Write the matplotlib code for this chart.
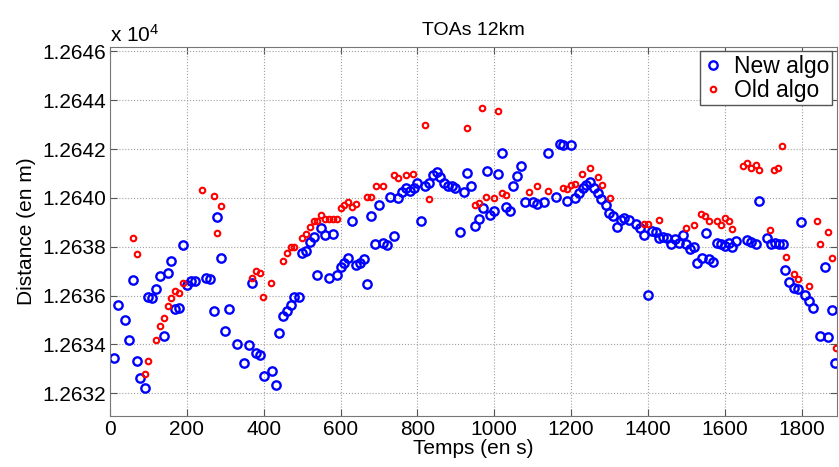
import matplotlib
matplotlib.use('Agg')
import matplotlib.pyplot as plt
from matplotlib.ticker import FuncFormatter, MultipleLocator

plt.rcParams['font.family'] = ['Liberation Sans', 'DejaVu Sans']
plt.rcParams['mathtext.default'] = 'regular'

# New algo (blue)
t_new = [10, 20, 40, 49, 59, 70, 79, 90, 99, 110, 119, 130, 140, 150, 160, 170, 180, 190,
         200, 210, 220, 250, 261, 270, 279, 290, 299, 310, 330, 350, 361, 370, 380, 391,
         400, 421, 431, 440, 450, 460, 470, 480, 491, 500, 511, 520, 531, 540, 550, 560,
         570, 580, 590, 600, 610, 620, 630, 640, 650, 660, 669, 680, 690, 700, 711, 720,
         730, 740, 750, 760, 770, 781, 790, 800, 810, 820, 830, 840, 850, 860, 870, 880,
         890, 899, 910, 921, 930, 940, 950, 960, 970, 980, 990, 1000, 1010, 1020, 1030,
         1040, 1050, 1060, 1070, 1080, 1100, 1110, 1130, 1140, 1160, 1170, 1180, 1190,
         1200, 1210, 1220, 1230, 1240, 1250, 1260, 1270, 1279, 1290, 1299, 1310, 1320,
         1330, 1339, 1350, 1370, 1380, 1389, 1400, 1410, 1420, 1429, 1440, 1449, 1460,
         1470, 1480, 1490, 1500, 1510, 1520, 1528, 1540, 1550, 1560, 1570, 1579, 1590,
         1600, 1610, 1620, 1630, 1657, 1667, 1680, 1689, 1709, 1719, 1730, 1740, 1752,
         1758, 1768, 1779, 1790, 1799, 1809, 1820, 1829, 1849, 1860, 1869, 1880, 1888]
d_new = [12633.44, 12635.62, 12635.02, 12634.20, 12636.64, 12633.32, 12632.64, 12632.21,
         12635.94, 12635.92, 12636.28, 12636.79, 12634.35, 12636.92, 12637.41, 12635.46,
         12635.49, 12638.07, 12636.42, 12636.61, 12636.61, 12636.71, 12636.70, 12635.35,
         12639.20, 12637.56, 12634.57, 12635.46, 12634.00, 12633.25, 12633.96, 12636.50,
         12633.67, 12633.56, 12632.70, 12632.92, 12632.36, 12634.47, 12635.16, 12635.36,
         12635.61, 12635.93, 12635.93, 12637.74, 12637.82, 12638.18, 12638.38, 12636.84,
         12638.76, 12638.50, 12636.74, 12638.53, 12636.85, 12637.16, 12637.34, 12637.52,
         12639.07, 12637.26, 12637.33, 12637.49, 12636.46, 12639.28, 12638.10, 12639.73,
         12638.16, 12638.09, 12640.03, 12638.45, 12640.00, 12640.23, 12640.42, 12640.28,
         12640.41, 12640.62, 12639.06, 12640.50, 12640.62, 12640.93, 12641.07, 12640.84,
         12640.62, 12640.48, 12640.50, 12640.39, 12638.60, 12640.24, 12641.04, 12640.50,
         12638.84, 12639.12, 12639.59, 12641.11, 12639.29, 12639.46, 12640.99, 12641.85,
         12639.64, 12639.46, 12640.50, 12640.90, 12641.29, 12639.84, 12639.82, 12639.74,
         12639.82, 12641.83, 12640.02, 12642.22, 12642.16, 12639.86, 12642.17, 12639.98,
         12640.19, 12640.40, 12640.51, 12640.64, 12640.42, 12640.21, 12639.94, 12639.69,
         12639.39, 12639.27, 12638.82, 12639.09, 12639.16, 12639.09, 12638.94, 12638.77,
         12638.48, 12636.04, 12638.65, 12638.60, 12638.35, 12638.41, 12638.35, 12638.12,
         12638.32, 12638.17, 12638.47, 12638.12, 12637.90, 12637.97, 12637.33, 12637.52,
         12638.57, 12637.51, 12637.38, 12638.16, 12638.10, 12638.03, 12638.16, 12637.99,
         12638.23, 12638.26, 12638.20, 12638.10, 12639.87, 12638.34, 12638.10, 12638.16,
         12638.10, 12638.10, 12637.05, 12636.54, 12636.30, 12636.27, 12639.02, 12636.03,
         12635.78, 12635.48, 12634.36, 12637.18, 12634.31, 12635.43, 12633.22]

# Old algo (red)
t_old = [59, 69, 90, 99, 119, 130, 140, 150, 160, 170, 180, 190, 240, 270, 279, 290, 370,
         380, 391, 399, 420, 450, 460, 470, 480, 500, 510, 520, 530, 540, 550, 560, 570,
         580, 590, 600, 610, 620, 630, 640, 669, 680, 691, 710, 740, 750, 770, 789, 820,
         829, 929, 949, 960, 969, 979, 1000, 1010, 1020, 1030, 1090, 1110, 1140, 1179,
         1190, 1200, 1210, 1229, 1249, 1269, 1280, 1300, 1389, 1400, 1429, 1499, 1520,
         1539, 1549, 1560, 1579, 1590, 1600, 1610, 1619, 1647, 1658, 1668, 1680, 1689,
         1718, 1728, 1739, 1750, 1759, 1779, 1790, 1819, 1840, 1849, 1869, 1879, 1889]
d_old = [12638.35, 12637.69, 12632.79, 12633.33, 12634.19, 12634.76, 12635.10, 12635.59,
         12635.92, 12636.18, 12636.12, 12636.50, 12640.31, 12640.08, 12638.57, 12639.67,
         12636.72, 12637.02, 12636.92, 12635.96, 12636.52, 12637.42, 12637.75, 12637.97,
         12637.99, 12638.35, 12638.53, 12638.80, 12639.04, 12639.05, 12639.32, 12639.12,
         12639.12, 12639.12, 12639.15, 12639.57, 12639.71, 12639.84, 12639.64, 12639.74,
         12640.03, 12640.03, 12640.49, 12640.49, 12640.93, 12640.81, 12640.93, 12640.96,
         12642.97, 12639.94, 12642.85, 12639.72, 12639.79, 12643.69, 12640.03, 12640.01,
         12643.57, 12640.19, 12640.12, 12640.25, 12640.47, 12640.30, 12640.40, 12640.38,
         12640.51, 12640.56, 12641.00, 12641.23, 12640.86, 12640.52, 12639.99, 12638.93,
         12638.93, 12639.11, 12638.75, 12638.89, 12639.35, 12639.26, 12639.05, 12639.05,
         12638.91, 12639.18, 12639.05, 12638.73, 12641.31, 12641.45, 12641.23, 12641.36,
         12641.16, 12638.68, 12641.16, 12641.21, 12642.11, 12637.58, 12636.87, 12636.67,
         12636.38, 12639.05, 12638.13, 12638.60, 12637.52, 12633.86]

fig = plt.figure(figsize=(8.39, 4.67), dpi=100)
ax = fig.add_axes([0.1311, 0.1092, 0.8665, 0.7912])

ax.plot(t_new, d_new, 'o', color='blue', mfc='none', mew=1.7, ms=6, label='New algo')
ax.plot(t_old, d_old, 'o', color='red', mfc='none', mew=1.5, ms=4, label='Old algo')

ax.set_xlim(0, 1892)
ax.set_ylim(12631.07, 12646.2)
ax.xaxis.set_major_locator(MultipleLocator(200))
ax.yaxis.set_major_locator(MultipleLocator(2))
ax.yaxis.set_major_formatter(FuncFormatter(lambda v, p: '%.4f' % (v / 1e4)))

ax.grid(True, linestyle=':', color='#a0a0a0', linewidth=0.8)
ax.tick_params(direction='in', top=True, right=True, labelsize=15, length=5,
               color='#555555', pad=3)
for s in ax.spines.values():
    s.set_color('#777777')

ax.set_title('TOAs 12km', fontsize=14, pad=8)
ax.set_xlabel('Temps (en s)', fontsize=15, labelpad=0)
ax.set_ylabel('Distance (en m)', fontsize=15, labelpad=4)
ax.text(0, 1.003, r'x 10$^4$', transform=ax.transAxes, fontsize=15,
        ha='left', va='bottom')

leg = ax.legend(loc='upper right', fontsize=16.5, numpoints=1, handlelength=0.8,
                handletextpad=0.5, borderaxespad=0.2, fancybox=False,
                framealpha=1, borderpad=0.15, labelspacing=0.05)
leg.get_frame().set_edgecolor('#555555')

fig.savefig('out.png', dpi=100)
